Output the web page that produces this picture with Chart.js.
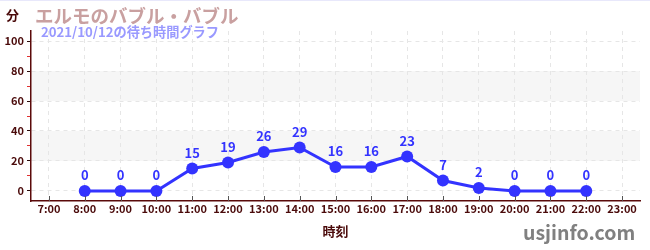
<!DOCTYPE html>
<html><head><meta charset="utf-8">
<script src="https://cdn.jsdelivr.net/npm/chart.js@4/dist/chart.umd.min.js"></script>
<style>
html,body{margin:0;padding:0;background:#fff;}
#wrap{position:relative;width:650px;height:250px;overflow:hidden;border-top:1px solid #e8e8fb;box-sizing:border-box;}
#c{position:absolute;left:0;top:0;}
.t{position:absolute;font-family:"Noto Sans CJK JP","Noto Sans",sans-serif;font-weight:bold;white-space:nowrap;line-height:1;}
</style></head>
<body>
<div id="wrap">
<canvas id="c" width="650" height="250"></canvas>
<div class="t" style="left:6px;top:7px;font-size:13px;color:#4a0a0a;">分</div>
<div class="t" style="left:35px;top:5px;font-size:18.5px;color:#c9a0a0;">エルモのバブル・バブル</div>
<div class="t" style="left:41px;top:24px;font-size:13.2px;color:#9999ff;">2021/10/12の待ち時間グラフ</div>
<div class="t" style="left:523px;top:221px;font-size:19.5px;color:#808080;">usjinfo.com</div>
</div>
<script>
const hours = [8, 9, 10, 11, 12, 13, 14, 15, 16, 17, 18, 19, 20, 21, 22];
const waits = [0, 0, 0, 15, 19, 26, 29, 16, 16, 23, 7, 2, 0, 0, 0];
const xTickHours = [7, 8, 9, 10, 11, 12, 13, 14, 15, 16, 17, 18, 19, 20, 21, 22, 23];
const yTickValues = [0, 10, 20, 30, 40, 50, 60, 70, 80, 90, 100];
const bandRanges = [[20, 40], [60, 80]];

const FONT = '"Noto Sans CJK JP","Noto Sans",sans-serif';
const MAROON = '#4a0a0a';

const bandPlugin = {
  id: 'bands',
  beforeDraw(chart) {
    const {ctx, chartArea: a, scales: {y}} = chart;
    ctx.save();
    ctx.fillStyle = '#f6f6f6';
    bandRanges.forEach(([lo, hi]) => {
      const yt = y.getPixelForValue(hi), yb = y.getPixelForValue(lo);
      ctx.fillRect(a.left, yt, a.right - a.left, yb - yt);
    });
    ctx.restore();
  }
};

const xTickPlugin = {
  id: 'xticks',
  afterDraw(chart) {
    const {ctx, chartArea: a, scales: {x}} = chart;
    ctx.save();
    ctx.strokeStyle = '#555';
    ctx.lineWidth = 1;
    x.ticks.forEach(t => {
      const px = Math.round(x.getPixelForValue(t.value)) + 0.5;
      ctx.beginPath();
      ctx.moveTo(px, a.bottom);
      ctx.lineTo(px, a.bottom - 5);
      ctx.stroke();
    });
    ctx.restore();
  }
};

const labelPlugin = {
  id: 'vlabels',
  afterDatasetsDraw(chart) {
    const {ctx} = chart;
    const meta = chart.getDatasetMeta(0);
    ctx.save();
    ctx.fillStyle = '#3333ff';
    ctx.font = 'bold 13px ' + FONT;
    ctx.textAlign = 'center';
    ctx.textBaseline = 'bottom';
    meta.data.forEach((pt, i) => {
      ctx.fillText(String(waits[i]), pt.x, pt.y - 9);
    });
    ctx.restore();
  }
};

new Chart(document.getElementById('c'), {
  type: 'line',
  data: {
    datasets: [{
      data: hours.map((h, i) => ({x: h, y: waits[i]})),
      borderColor: '#3333ff',
      backgroundColor: '#3333ff',
      borderWidth: 3,
      pointRadius: 6,
      pointBackgroundColor: '#3333ff',
      pointBorderWidth: 0,
      tension: 0,
      fill: false
    }]
  },
  options: {
    responsive: false,
    animation: false,
    devicePixelRatio: 1,
    layout: {padding: {top: 30, right: 10, left: 0, bottom: 12}},
    plugins: {legend: {display: false}, tooltip: {enabled: false}},
    scales: {
      x: {
        type: 'linear',
        min: 6.5, max: 23.5,
        afterBuildTicks: s => { s.ticks = xTickHours.map(v => ({value: v})); },
        afterFit: s => { s.height = 38; },
        ticks: {
          autoSkip: false, maxRotation: 0,
          color: MAROON, font: {family: FONT, size: 11, weight: 'bold'},
          padding: 1,
          callback: v => v + ':00'
        },
        grid: {color: '#e6e6e6', tickLength: 0, lineWidth: 1},
        border: {color: '#5a0a0a', width: 1.5, dash: [4, 4]},
        title: {display: true, text: '時刻', color: MAROON, font: {family: FONT, size: 13, weight: 'bold'}, padding: {top: 6, bottom: 0}}
      },
      y: {
        min: -6.667, max: 106.667,
        afterBuildTicks: s => { s.ticks = yTickValues.map(v => ({value: v})); },
        afterFit: s => { s.width = 31; },
        ticks: {
          color: MAROON, font: {family: FONT, size: 11, weight: 'bold'},
          padding: 3,
          callback: v => (v % 20 === 0 ? String(v) : '')
        },
        grid: {
          color: c => (c.tick && c.tick.value % 20 === 0 ? '#e6e6e6' : 'rgba(0,0,0,0)'),
          tickColor: c => (c.tick && c.tick.value % 20 === 0 ? '#2a0a0a' : '#e03030'),
          tickLength: 4,
          lineWidth: 1
        },
        border: {color: '#5a0a0a', width: 1.5, dash: [4, 4]}
      }
    }
  },
  plugins: [bandPlugin, xTickPlugin, labelPlugin]
});
</script>
</body></html>
